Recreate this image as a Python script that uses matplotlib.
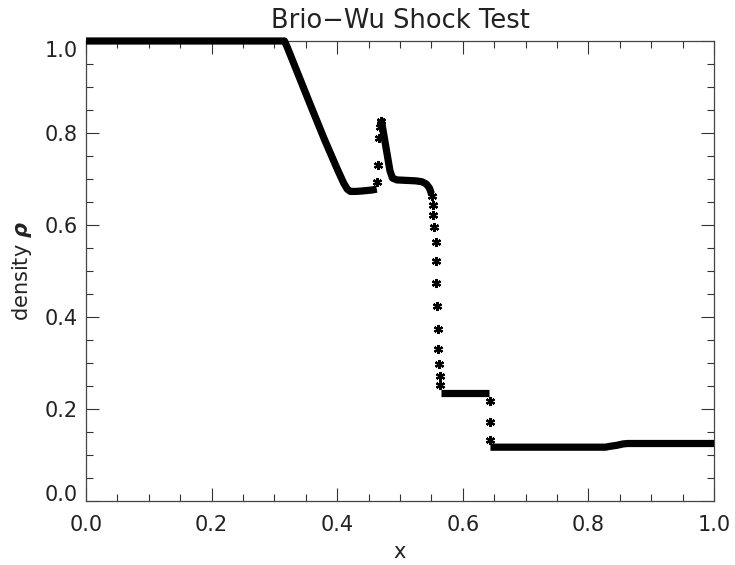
import numpy as np
import matplotlib.pyplot as plt
from matplotlib.ticker import MultipleLocator

plt.rcParams['font.family'] = ['DejaVu Sans']

# left state, fast rarefaction and the plateau behind it
left_x = [0.0, 0.316, 0.320, 0.34, 0.36, 0.38, 0.40, 0.410, 0.416, 0.421, 0.43, 0.44, 0.455, 0.463]
left_rho = [1.0, 1.0, 0.988, 0.920, 0.852, 0.785, 0.722, 0.692, 0.678, 0.673, 0.673, 0.674, 0.676, 0.678]

# compound wave: sparse cells jumping up to the peak
peak_x = [0.464, 0.465, 0.467, 0.468, 0.469]
peak_rho = [0.693, 0.730, 0.789, 0.812, 0.826]

# decay from the peak and the state left of the contact
mid_x = [0.469, 0.471, 0.475, 0.480, 0.484, 0.488, 0.495, 0.51, 0.525, 0.535, 0.542, 0.547, 0.550]
mid_rho = [0.830, 0.822, 0.790, 0.750, 0.718, 0.702, 0.698, 0.697, 0.696, 0.694, 0.689, 0.680, 0.668]

# contact discontinuity cells
contact_x = [0.551, 0.553, 0.553, 0.554, 0.557, 0.558, 0.558, 0.559, 0.560, 0.560, 0.562, 0.563, 0.564]
contact_rho = [0.662, 0.643, 0.622, 0.596, 0.564, 0.522, 0.473, 0.425, 0.374, 0.330, 0.298, 0.272, 0.252]

# state between contact and slow shock
inner_x = [0.565, 0.642]
inner_rho = [0.234, 0.234]

# slow shock cells
shock_x = [0.643, 0.643, 0.643]
shock_rho = [0.217, 0.172, 0.133]

# right state with the fast rarefaction near x=0.85
right_x = [0.644, 0.70, 0.80, 0.827, 0.835, 0.845, 0.855, 0.862, 0.9, 1.0]
right_rho = [0.117, 0.117, 0.117, 0.117, 0.119, 0.121, 0.124, 0.125, 0.125, 0.125]

fig = plt.figure(figsize=(7.35, 5.65), dpi=100)
ax = fig.add_axes([86 / 735, 1 - 501 / 565, 628 / 735, 460 / 565])

txt = '#222222'
for xs, ys in [(left_x, left_rho), (mid_x, mid_rho), (inner_x, inner_rho), (right_x, right_rho)]:
    ax.plot(xs, ys, color='k', lw=5.2, solid_capstyle='butt',
            solid_joinstyle='round', clip_on=False, zorder=3)
for xs, ys in [(peak_x, peak_rho), (contact_x, contact_rho), (shock_x, shock_rho)]:
    ax.plot(xs, ys, ls='none', marker=(6, 2, 0), ms=6.5, mew=1.6,
            color='k', zorder=3)

ax.set_xlim(0, 1)
ax.set_ylim(0, 1)
ax.set_xticks(np.arange(0, 1.01, 0.2))
ax.set_yticks(np.arange(0, 1.01, 0.2))
ax.set_xticklabels(['%.1f' % v for v in np.arange(0, 1.01, 0.2)])
ax.set_yticklabels(['%.1f' % v for v in np.arange(0, 1.01, 0.2)])
ax.xaxis.set_minor_locator(MultipleLocator(0.05))
ax.yaxis.set_minor_locator(MultipleLocator(0.05))
ax.tick_params(which='both', direction='in', top=True, right=True,
               width=0.8, color='#333333', labelsize=15, labelcolor=txt)
ax.tick_params(which='major', length=9.4)
ax.tick_params(which='minor', length=4.7)
ax.tick_params(axis='x', pad=10)
ax.tick_params(axis='y', pad=6)
for s in ax.spines.values():
    s.set_color('#444444')
    s.set_linewidth(0.9)

ax.set_title('Brio\u2212Wu Shock Test', fontsize=18.5, color=txt, pad=9.5)
fig.text(400 / 735, 1 - 552 / 565, 'x', fontsize=15, color=txt,
         ha='center', va='center')
fig.text(22 / 735, 1 - 271 / 565, r'density $\boldsymbol{\rho}$', fontsize=15,
         color=txt, rotation=90, ha='center', va='center')

fig.canvas.draw()
ylabels = ax.get_yticklabels()
ylabels[0].set_va('baseline')
ylabels[-1].set_va('top')

fig.savefig('out.png', dpi=100)
